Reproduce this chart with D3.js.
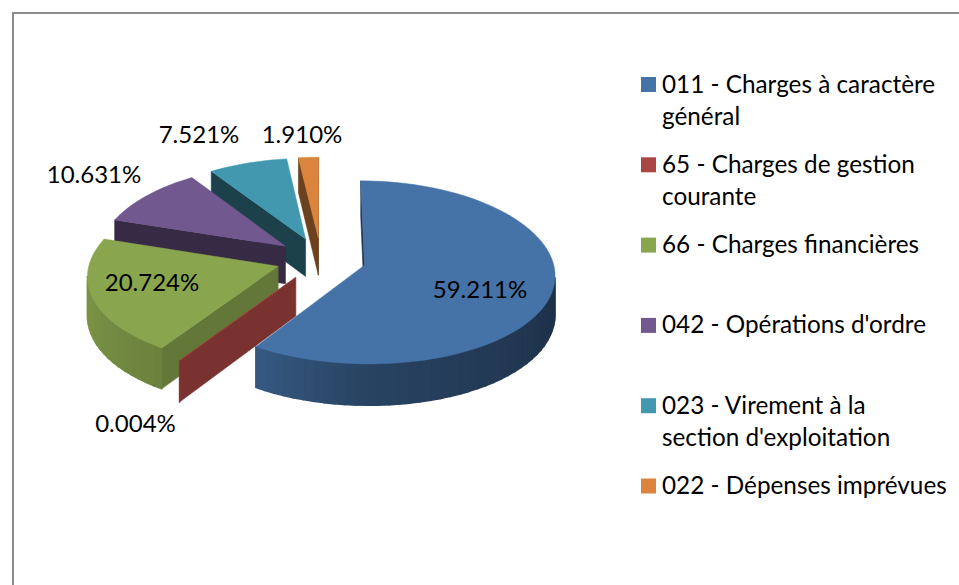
<!DOCTYPE html>
<html><head><meta charset="utf-8">
<script src="https://cdn.jsdelivr.net/npm/d3@7"></script>
<style>html,body{margin:0;padding:0;background:#fff}svg{display:block}text{font-family:Lato,"Noto Sans",sans-serif;fill:#000}</style>
</head><body><svg id="c" width="959" height="585"></svg>
<script>
const categories = ["011 - Charges à caractère|général","65 - Charges de gestion|courante","66 - Charges financières","042 - Opérations d'ordre","023 - Virement à la|section d'exploitation","022 - Dépenses imprévues"];
const values = [59.211,0.004,20.724,10.631,7.521,1.910];
const colors = ["#4572A7","#AA4643","#89A54E","#71588F","#4198AF","#DB843D"];
const valueLabels = ["59.211%","0.004%","20.724%","10.631%","7.521%","1.910%"];
const labelAnchors = [[480,298],[135.5,432],[152,291],[94,183],[199,143],[302,143]];
const paintOrder = [5,4,3,2,1,0];

const W=959,H=585,FS=24,LEG=24.3;
const svg=d3.select("#c");
svg.append("path").attr("d",`M13,${H+5}V13H${W+5}`).attr("fill","none").attr("stroke","#8c8c8c").attr("stroke-width",2);

// 3D projection of the pie plane
const CX=321,CY=259,A=188,B=90,P=0.078,PX=0.095,DEPTH=38,EXPLODE=0.24;
function project(X,Y,drop){const s=1/(1-P*Y);return [CX+A*X/(1-PX*Y),CY+B*Y*s+(drop?DEPTH*s:0)];}
const pie=d3.pie().sort(null).startAngle(0).endAngle(2*Math.PI)(values);
const outerShade=d3.scaleLinear().domain([90,180,213,250,290]).range([.4,.58,.78,.88,.9]).clamp(true);
const wallShade=d3.scaleLinear().domain([0,213,288,326,353]).range([.45,.72,.48,.43,.49]);
const tint=(c,k)=>{const r=d3.rgb(c);return d3.rgb(r.r*k,r.g*k,r.b*k).formatHex();};
const poly=d3.line().curve(d3.curveLinearClosed);
const deg=a=>a*180/Math.PI;

const g=svg.append("g");
paintOrder.forEach(i=>{
  const d=pie[i],c=colors[i],m=(d.startAngle+d.endAngle)/2;
  const ox=EXPLODE*Math.sin(m),oy=-EXPLODE*Math.cos(m);
  const rim=(t,drop)=>project(ox+Math.sin(t),oy-Math.cos(t),drop);
  const apex=drop=>project(ox,oy,drop);
  const steps=Math.max(1,Math.ceil(deg(d.endAngle-d.startAngle)/3));
  const ts=d3.range(steps+1).map(k=>d.startAngle+(d.endAngle-d.startAngle)*k/steps);
  const drawFace=(pts,col,sw)=>{ if(d3.polygonArea(pts)>0) g.append("path").attr("d",poly(pts)).attr("fill",col).attr("stroke",col).attr("stroke-width",sw); };
  const t0=d.startAngle,t1=d.endAngle;
  drawFace([apex(0),rim(t0,0),rim(t0,1),apex(1)],tint(c,wallShade(deg(t0))),.6);
  drawFace([rim(t1,0),apex(0),apex(1),rim(t1,1)],tint(c,wallShade(deg(t1))),.6);
  for(let k=0;k<steps;k++){
    drawFace([rim(ts[k],0),rim(ts[k+1],0),rim(ts[k+1],1),rim(ts[k],1)],tint(c,outerShade(deg((ts[k]+ts[k+1])/2))),1.4);
  }
  g.append("path").attr("d",poly([apex(0),...ts.map(t=>rim(t,0))])).attr("fill",c).attr("stroke",c).attr("stroke-width",.5);
});

// data labels
svg.append("g").selectAll("text").data(valueLabels).join("text")
  .attr("x",(d,i)=>labelAnchors[i][0]).attr("y",(d,i)=>labelAnchors[i][1])
  .attr("text-anchor","middle").attr("font-size",FS).text(d=>d);

// legend
const legendY=d3.scalePoint().domain(d3.range(categories.length)).range([84.5,486]);
const lg=svg.append("g");
categories.forEach((name,i)=>{
  const y=legendY(i);
  lg.append("rect").attr("x",641).attr("y",y-7.5).attr("width",15).attr("height",15).attr("fill",colors[i]);
  name.split("|").forEach((ln,k)=>{
    lg.append("text").attr("x",662).attr("y",y+8+k*32.5).attr("font-size",LEG).text(ln);
  });
});
</script></body></html>
